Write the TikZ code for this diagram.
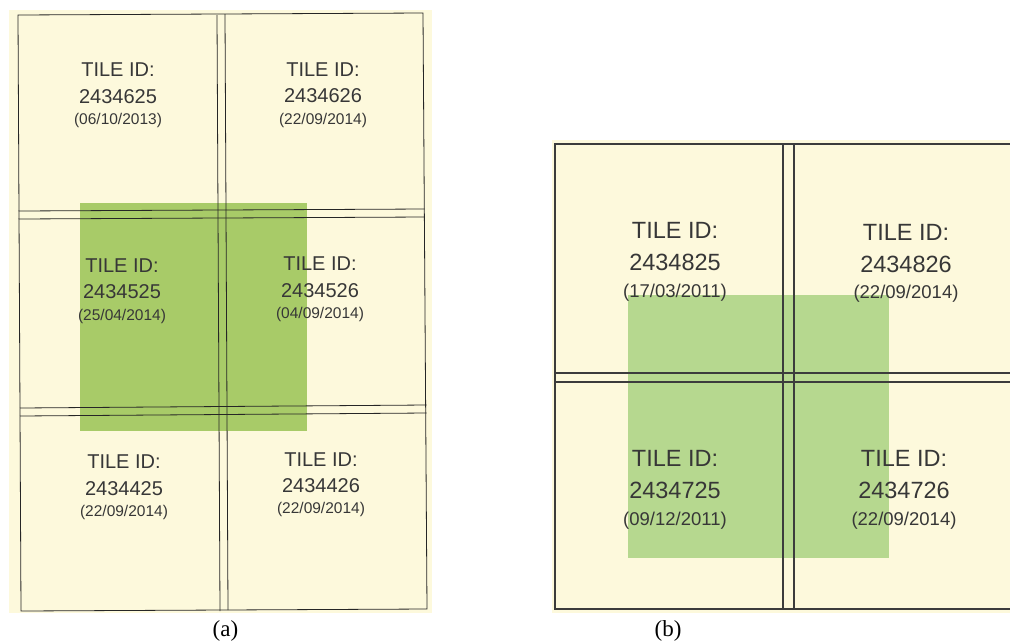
\documentclass[tikz,border=0pt]{standalone}
\usepackage{fontspec}
\setmainfont{Liberation Sans}
\newfontfamily\capfont{Liberation Serif}
\definecolor{cream}{RGB}{253,249,220}
\definecolor{greenA}{RGB}{168,203,104}
\definecolor{greenB}{RGB}{182,216,143}
\definecolor{txt}{RGB}{55,55,55}
\definecolor{lineB}{RGB}{60,60,60}
\begin{document}
\begin{tikzpicture}[x=1pt,y=-1pt,
  lineA/.style={draw=black!85,line width=0.8pt},
  lineBst/.style={draw=lineB,line width=1.7pt},
  lblA/.style={anchor=base,inner sep=0pt,text=txt,font=\fontsize{20}{22}\selectfont},
  dateA/.style={anchor=base,inner sep=0pt,text=txt,font=\fontsize{15.5}{17}\selectfont},
  lblB/.style={anchor=base,inner sep=0pt,text=txt,font=\fontsize{23.5}{26}\selectfont},
  dateB/.style={anchor=base,inner sep=0pt,text=txt,font=\fontsize{18.5}{20}\selectfont},
  capst/.style={anchor=base,inner sep=0pt,text=black,font=\capfont\fontsize{23}{25}\selectfont}]
\useasboundingbox (0,0) rectangle (1010,641);
\begin{scope}
\clip (0,0) rectangle (1010,641);
% ---------- panel (a) ----------
\fill[cream] (9,10) rectangle (432,613);
\fill[greenA] (80,203) rectangle (307,431);
\draw[lineA] (18,15) -- (423,13) -- (427,609) -- (21,611) -- cycle;
\draw[lineA] (217,15) -- (220,611);
\draw[lineA] (225,14) -- (228,610);
\draw[lineA] (18.5,211) -- (424.5,209);
\draw[lineA] (18.5,219) -- (424.5,217);
\draw[lineA] (20,408) -- (426.5,405);
\draw[lineA] (20,416) -- (426.5,413);
% labels (a)
\node[lblA] (a1t) at (118,76) {TILE ID:};
\node[lblA] (a1n) at (118,103) {2434625};
\node[dateA] (a1d) at (118,124) {(06/10/2013)};
\node[lblA] (a2t) at (323,76) {TILE ID:};
\node[lblA] (a2n) at (323,102) {2434626};
\node[dateA] (a2d) at (323,124) {(22/09/2014)};
\node[lblA] (a3t) at (122,272) {TILE ID:};
\node[lblA] (a3n) at (122,298) {2434525};
\node[dateA] (a3d) at (122,320) {(25/04/2014)};
\node[lblA] (a4t) at (320,270) {TILE ID:};
\node[lblA] (a4n) at (320,297) {2434526};
\node[dateA] (a4d) at (320,318) {(04/09/2014)};
\node[lblA] (a5t) at (124,468) {TILE ID:};
\node[lblA] (a5n) at (124,495) {2434425};
\node[dateA] (a5d) at (124,516) {(22/09/2014)};
\node[lblA] (a6t) at (321,466) {TILE ID:};
\node[lblA] (a6n) at (321,492) {2434426};
\node[dateA] (a6d) at (321,513) {(22/09/2014)};
% ---------- panel (b) ----------
\fill[cream] (552,140) rectangle (1012,613);
\fill[greenB] (628,295) rectangle (889,558);
\draw[lineBst] (1015,144) -- (555,144) -- (555,609) -- (1015,609);
\draw[lineBst,rounded corners=1pt] (783,144) rectangle (794,609);
\draw[lineBst] (555,373) -- (1015,373);
\draw[lineBst] (555,382) -- (1015,382);
% labels (b)
\node[lblB] (b1t) at (675,238) {TILE ID:};
\node[lblB] (b1n) at (675,270) {2434825};
\node[dateB] (b1d) at (675,297) {(17/03/2011)};
\node[lblB] (b2t) at (906,240) {TILE ID:};
\node[lblB] (b2n) at (906,272) {2434826};
\node[dateB] (b2d) at (906,298) {(22/09/2014)};
\node[lblB] (b3t) at (675,466) {TILE ID:};
\node[lblB] (b3n) at (675,498) {2434725};
\node[dateB] (b3d) at (675,525) {(09/12/2011)};
\node[lblB] (b4t) at (904,466) {TILE ID:};
\node[lblB] (b4n) at (904,498) {2434726};
\node[dateB] (b4d) at (904,525) {(22/09/2014)};
% captions
\node[capst] (capa) at (225.5,636) {(a)};
\node[capst] (capb) at (668,636) {(b)};
\end{scope}
\end{tikzpicture}
\end{document}
